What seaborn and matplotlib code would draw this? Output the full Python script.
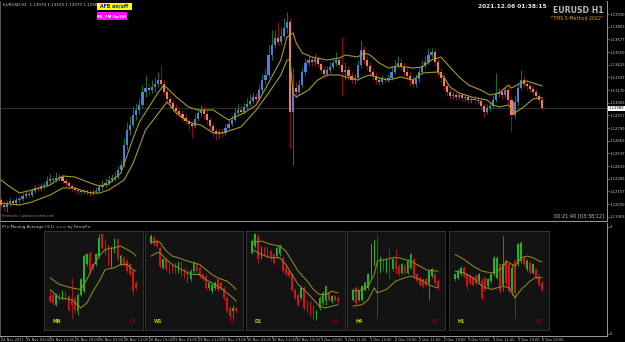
import numpy as np
import pandas as pd
import matplotlib
matplotlib.use("Agg")
import matplotlib.pyplot as plt
from matplotlib.patches import Rectangle
from matplotlib.transforms import blended_transform_factory
import seaborn as sns

W, H = 625, 342

# ---------------- main chart: EURUSD H1 ----------------
date_labels = ["24 Nov 2021", "25 Nov 03:00", "25 Nov 11:00", "25 Nov 19:00", "26 Nov 03:00",
               "26 Nov 11:00", "26 Nov 19:00", "29 Nov 03:00", "29 Nov 11:00", "29 Nov 19:00",
               "30 Nov 03:00", "30 Nov 11:00", "30 Nov 19:00", "1 Dec 03:00", "1 Dec 11:00",
               "1 Dec 19:00", "2 Dec 03:00", "2 Dec 11:00", "2 Dec 19:00", "3 Dec 03:00",
               "3 Dec 11:00", "3 Dec 19:00", "6 Dec 03:00"]
date_bars = [0, 8, 16, 24, 32, 40, 48, 56, 64, 72, 80, 88, 96, 104, 112, 120, 128, 136,
             144, 152, 160, 168, 176]

h1_open = [1.1207, 1.1202, 1.1200, 1.1204, 1.1206, 1.1204, 1.1207, 1.1208, 1.1211, 1.1213,
           1.1212, 1.1216, 1.1219, 1.1218, 1.1221, 1.1222, 1.1226, 1.1228, 1.1227, 1.1229,
           1.1230, 1.1226, 1.1224, 1.1221, 1.1219, 1.1217, 1.1216, 1.1215, 1.1216, 1.1215,
           1.1214, 1.1215, 1.1216, 1.1220, 1.1222, 1.1224, 1.1227, 1.1229, 1.1230, 1.1237,
           1.1242, 1.1262, 1.1277, 1.1282, 1.1292, 1.1297, 1.1302, 1.1315, 1.1319, 1.1317,
           1.1320, 1.1323, 1.1327, 1.1323, 1.1315, 1.1308, 1.1304, 1.1299, 1.1296, 1.1293,
           1.1289, 1.1286, 1.1283, 1.1281, 1.1288, 1.1294, 1.1297, 1.1293, 1.1287, 1.1281,
           1.1276, 1.1273, 1.1275, 1.1274, 1.1279, 1.1283, 1.1287, 1.1294, 1.1297, 1.1295,
           1.1300, 1.1303, 1.1306, 1.1310, 1.1308, 1.1317, 1.1327, 1.1332, 1.1352, 1.1362,
           1.1369, 1.1365, 1.1371, 1.1379, 1.1385, 1.1295, 1.1319, 1.1315, 1.1322, 1.1335,
           1.1344, 1.1347, 1.1345, 1.1348, 1.1343, 1.1337, 1.1333, 1.1337, 1.1340, 1.1344,
           1.1347, 1.1342, 1.1335, 1.1337, 1.1331, 1.1327, 1.1329, 1.1342, 1.1357, 1.1347,
           1.1341, 1.1335, 1.1331, 1.1327, 1.1325, 1.1328, 1.1327, 1.1329, 1.1335, 1.1341,
           1.1344, 1.1340, 1.1335, 1.1331, 1.1327, 1.1323, 1.1328, 1.1335, 1.1341, 1.1345,
           1.1352, 1.1355, 1.1345, 1.1335, 1.1329, 1.1321, 1.1315, 1.1311, 1.1312, 1.1310,
           1.1312, 1.1309, 1.1310, 1.1307, 1.1308, 1.1307, 1.1306, 1.1301, 1.1295, 1.1299,
           1.1301, 1.1307, 1.1313, 1.1315, 1.1312, 1.1317, 1.1307, 1.1292, 1.1305, 1.1319,
           1.1327, 1.1323, 1.1321, 1.1318, 1.1315, 1.1311, 1.1307]
h1_high = [1.1210, 1.1206, 1.1207, 1.1209, 1.1208, 1.1210, 1.1211, 1.1214, 1.1216, 1.1216,
           1.1219, 1.1222, 1.1223, 1.1224, 1.1225, 1.1231, 1.1233, 1.1231, 1.1235, 1.1233,
           1.1232, 1.1229, 1.1226, 1.1223, 1.1221, 1.1219, 1.1218, 1.1218, 1.1218, 1.1217,
           1.1218, 1.1220, 1.1223, 1.1227, 1.1229, 1.1232, 1.1233, 1.1236, 1.1241, 1.1247,
           1.1269, 1.1285, 1.1291, 1.1301, 1.1304, 1.1309, 1.1322, 1.1332, 1.1323, 1.1327,
           1.1330, 1.1335, 1.1342, 1.1327, 1.1318, 1.1311, 1.1307, 1.1303, 1.1299, 1.1297,
           1.1293, 1.1288, 1.1286, 1.1293, 1.1299, 1.1302, 1.1301, 1.1297, 1.1290, 1.1284,
           1.1279, 1.1278, 1.1279, 1.1283, 1.1288, 1.1292, 1.1299, 1.1303, 1.1302, 1.1304,
           1.1309, 1.1313, 1.1315, 1.1314, 1.1323, 1.1333, 1.1339, 1.1362, 1.1377, 1.1377,
           1.1385, 1.1379, 1.1389, 1.1395, 1.1389, 1.1339, 1.1325, 1.1327, 1.1339, 1.1349,
           1.1352, 1.1351, 1.1353, 1.1351, 1.1346, 1.1341, 1.1341, 1.1345, 1.1349, 1.1355,
           1.1350, 1.1370, 1.1345, 1.1341, 1.1335, 1.1333, 1.1347, 1.1367, 1.1361, 1.1351,
           1.1345, 1.1339, 1.1335, 1.1331, 1.1332, 1.1331, 1.1333, 1.1341, 1.1347, 1.1351,
           1.1349, 1.1344, 1.1339, 1.1335, 1.1331, 1.1333, 1.1339, 1.1347, 1.1351, 1.1359,
           1.1359, 1.1359, 1.1349, 1.1339, 1.1333, 1.1325, 1.1319, 1.1316, 1.1315, 1.1315,
           1.1314, 1.1313, 1.1313, 1.1311, 1.1311, 1.1310, 1.1309, 1.1304, 1.1303, 1.1305,
           1.1312, 1.1334, 1.1319, 1.1319, 1.1321, 1.1321, 1.1311, 1.1312, 1.1323, 1.1337,
           1.1331, 1.1326, 1.1324, 1.1321, 1.1318, 1.1314, 1.1310]
h1_low = [1.1199, 1.1196, 1.1195, 1.1201, 1.1202, 1.1202, 1.1204, 1.1206, 1.1209, 1.1209,
          1.1210, 1.1214, 1.1216, 1.1216, 1.1218, 1.1220, 1.1223, 1.1224, 1.1225, 1.1226,
          1.1224, 1.1221, 1.1218, 1.1216, 1.1214, 1.1213, 1.1212, 1.1213, 1.1212, 1.1211,
          1.1212, 1.1213, 1.1214, 1.1217, 1.1220, 1.1222, 1.1225, 1.1226, 1.1228, 1.1234,
          1.1240, 1.1257, 1.1272, 1.1280, 1.1287, 1.1293, 1.1299, 1.1310, 1.1312, 1.1314,
          1.1315, 1.1320, 1.1319, 1.1312, 1.1304, 1.1299, 1.1295, 1.1292, 1.1289, 1.1286,
          1.1283, 1.1277, 1.1269, 1.1279, 1.1286, 1.1291, 1.1288, 1.1283, 1.1277, 1.1270,
          1.1267, 1.1269, 1.1270, 1.1272, 1.1277, 1.1281, 1.1285, 1.1292, 1.1292, 1.1293,
          1.1297, 1.1301, 1.1304, 1.1305, 1.1306, 1.1314, 1.1323, 1.1329, 1.1347, 1.1359,
          1.1362, 1.1362, 1.1369, 1.1374, 1.1259, 1.1242, 1.1309, 1.1312, 1.1319, 1.1331,
          1.1341, 1.1341, 1.1342, 1.1340, 1.1334, 1.1330, 1.1331, 1.1334, 1.1338, 1.1341,
          1.1339, 1.1312, 1.1327, 1.1327, 1.1324, 1.1323, 1.1327, 1.1339, 1.1343, 1.1337,
          1.1331, 1.1327, 1.1323, 1.1321, 1.1323, 1.1324, 1.1325, 1.1327, 1.1333, 1.1339,
          1.1337, 1.1331, 1.1327, 1.1321, 1.1319, 1.1320, 1.1325, 1.1333, 1.1339, 1.1343,
          1.1349, 1.1341, 1.1331, 1.1325, 1.1317, 1.1311, 1.1308, 1.1308, 1.1307, 1.1308,
          1.1306, 1.1306, 1.1304, 1.1304, 1.1303, 1.1303, 1.1297, 1.1290, 1.1293, 1.1296,
          1.1299, 1.1305, 1.1310, 1.1308, 1.1309, 1.1303, 1.1275, 1.1289, 1.1301, 1.1317,
          1.1320, 1.1317, 1.1315, 1.1312, 1.1308, 1.1304, 1.1297]
h1_close = [1.1202, 1.1200, 1.1204, 1.1206, 1.1204, 1.1207, 1.1208, 1.1211, 1.1213, 1.1212,
            1.1216, 1.1219, 1.1218, 1.1221, 1.1222, 1.1226, 1.1228, 1.1227, 1.1229, 1.1230,
            1.1226, 1.1224, 1.1221, 1.1219, 1.1217, 1.1216, 1.1215, 1.1216, 1.1215, 1.1214,
            1.1215, 1.1216, 1.1220, 1.1222, 1.1224, 1.1227, 1.1229, 1.1230, 1.1237, 1.1242,
            1.1262, 1.1277, 1.1282, 1.1292, 1.1297, 1.1302, 1.1315, 1.1319, 1.1317, 1.1320,
            1.1323, 1.1327, 1.1323, 1.1315, 1.1308, 1.1304, 1.1299, 1.1296, 1.1293, 1.1289,
            1.1286, 1.1283, 1.1281, 1.1288, 1.1294, 1.1297, 1.1293, 1.1287, 1.1281, 1.1276,
            1.1273, 1.1275, 1.1274, 1.1279, 1.1283, 1.1287, 1.1294, 1.1297, 1.1295, 1.1300,
            1.1303, 1.1306, 1.1310, 1.1308, 1.1317, 1.1327, 1.1332, 1.1352, 1.1362, 1.1369,
            1.1365, 1.1371, 1.1379, 1.1385, 1.1295, 1.1319, 1.1315, 1.1322, 1.1335, 1.1344,
            1.1347, 1.1345, 1.1348, 1.1343, 1.1337, 1.1333, 1.1337, 1.1340, 1.1344, 1.1347,
            1.1342, 1.1335, 1.1337, 1.1331, 1.1327, 1.1329, 1.1342, 1.1357, 1.1347, 1.1341,
            1.1335, 1.1331, 1.1327, 1.1325, 1.1328, 1.1327, 1.1329, 1.1335, 1.1341, 1.1344,
            1.1340, 1.1335, 1.1331, 1.1327, 1.1323, 1.1328, 1.1335, 1.1341, 1.1345, 1.1352,
            1.1355, 1.1345, 1.1335, 1.1329, 1.1321, 1.1315, 1.1311, 1.1312, 1.1310, 1.1312,
            1.1309, 1.1310, 1.1307, 1.1308, 1.1307, 1.1306, 1.1301, 1.1295, 1.1299, 1.1301,
            1.1307, 1.1313, 1.1315, 1.1312, 1.1317, 1.1307, 1.1292, 1.1305, 1.1319, 1.1327,
            1.1323, 1.1321, 1.1318, 1.1315, 1.1311, 1.1307, 1.12989]

ma_upper_bar = [0, 3, 6, 10, 16, 20, 24, 29, 32, 35, 39, 43, 45, 51, 53, 57, 61, 64, 69, 74,
                79, 83, 87, 91, 93, 95, 96, 98, 101, 106, 110, 112, 116, 118, 120, 123, 126,
                129, 134, 137, 140, 143, 146, 149, 152, 156, 159, 162, 165, 166, 169, 171, 175, 176]
ma_upper = [1.1227, 1.1220, 1.1214, 1.1217, 1.1222, 1.1231, 1.1230, 1.1224, 1.1221, 1.1223,
            1.1234, 1.1269, 1.1285, 1.1314, 1.1322, 1.1310, 1.1300, 1.1297, 1.1297, 1.1287,
            1.1294, 1.1302, 1.1324, 1.1347, 1.1370, 1.1374, 1.1364, 1.1354, 1.1350, 1.1347,
            1.1349, 1.1352, 1.1350, 1.1354, 1.1352, 1.1344, 1.1339, 1.1341, 1.1339, 1.1340,
            1.1347, 1.1350, 1.1340, 1.1330, 1.1322, 1.1317, 1.1312, 1.1314, 1.1322, 1.1319,
            1.1324, 1.1326, 1.1322, 1.1321]
ma_lower_bar = [0, 6, 10, 16, 20, 24, 29, 32, 35, 40, 43, 47, 54, 57, 60, 62, 65, 69, 72, 78,
                83, 87, 91, 93, 94, 95, 96, 100, 103, 106, 110, 112, 116, 118, 120, 123, 126,
                130, 134, 137, 142, 144, 146, 149, 153, 158, 160, 162, 165, 167, 170, 173, 175, 176]
ma_lower = [1.1204, 1.1202, 1.1205, 1.1212, 1.1219, 1.1219, 1.1214, 1.1214, 1.1217, 1.1227,
            1.1244, 1.1277, 1.1305, 1.1294, 1.1287, 1.1284, 1.1282, 1.1274, 1.1274, 1.1280,
            1.1297, 1.1314, 1.1332, 1.1347, 1.1347, 1.1314, 1.1310, 1.1317, 1.1327, 1.1332,
            1.1332, 1.1330, 1.1327, 1.1330, 1.1332, 1.1329, 1.1327, 1.1330, 1.1327, 1.1334,
            1.1335, 1.1330, 1.1320, 1.1314, 1.1310, 1.1307, 1.1302, 1.1300, 1.1302, 1.1294,
            1.1300, 1.1308, 1.1309, 1.1309]

price_ticks = [1.11903, 1.12030, 1.12157, 1.12283, 1.12410, 1.12537, 1.12663, 1.12790,
               1.12917, 1.13043, 1.13170, 1.13297, 1.13423, 1.13550, 1.13677, 1.13803, 1.13930]

# ---------------- multi-timeframe boxes (O, H, L, C) ----------------
tf_names = ["MN", "W1", "D1", "H4", "H1"]
mn_ohlc = [(95,115,75,80),(100,105,70,75),(70,105,65,100),(100,105,80,85),(90,115,85,110),
           (105,110,85,90),(95,100,50,55),(85,150,30,70),(90,95,45,55),(50,105,40,100),
           (100,150,95,145),(110,220,105,215),(190,225,185,220),(225,230,160,170),(190,195,170,175),
           (190,225,185,220),(215,280,210,270),(280,285,235,240),(260,265,215,220),(245,250,185,190),
           (185,245,180,240),(230,270,225,265),(265,268,200,205),(190,220,185,215),(210,215,185,190),
           (200,205,165,170),(190,195,155,160),(170,175,100,110),(135,140,115,120)]
w1_ohlc = [(255,280,250,275),(270,275,245,250),(260,265,240,245),(240,245,180,185),(180,210,175,205),
           (205,210,170,175),(190,195,160,165),(185,190,165,170),(190,195,160,165),(170,200,165,195),
           (195,200,155,160),(175,180,150,155),(170,175,135,140),(145,175,140,170),(170,200,165,195),
           (190,195,165,170),(180,185,150,155),(160,165,140,145),(155,160,115,120),(120,140,115,135),
           (110,135,105,130),(120,140,115,135),(145,150,110,115),(135,140,115,120),(120,125,85,90),
           (90,95,45,50),(60,65,25,35),(50,70,30,60),(60,62,45,50)]
d1_ohlc = [(225,265,220,260),(245,285,240,280),(275,280,195,205),(210,245,205,240),(240,245,215,220),
           (240,245,210,215),(230,235,200,210),(220,225,190,195),(215,245,210,240),(220,250,215,245),
           (210,215,165,170),(180,185,155,160),(170,175,150,155),(160,165,110,115),(115,120,85,90),
           (100,105,65,70),(90,125,85,120),(120,125,55,60),(80,85,45,50),(75,80,35,40),
           (65,70,25,30),(30,55,25,50),(60,95,55,90),(75,110,70,105),(80,130,70,125),
           (105,110,80,85),(80,100,75,95),(95,100,80,85),(90,95,75,80)]
h4_ohlc = [(85,120,80,115),(120,125,70,75),(85,115,80,110),(85,130,80,125),(115,140,110,135),
           (120,165,115,160),(155,255,150,250),(190,265,185,260),(255,280,30,180),(170,215,165,210),
           (205,210,170,175),(170,210,165,205),(200,240,145,165),(175,210,170,205),(200,235,160,175),
           (185,190,155,160),(165,195,160,190),(185,190,160,165),(165,205,160,200),(180,225,175,220),
           (205,210,150,155),(160,165,135,140),(150,155,125,130),(145,150,120,125),(145,150,125,130),
           (135,175,85,170),(155,180,150,175),(160,165,130,135),(140,145,115,120)]
hr_ohlc = [(145,165,140,160),(150,175,145,170),(160,185,155,180),(180,185,150,155),(160,165,115,125),
           (155,160,130,135),(150,155,125,130),(155,160,130,135),(140,165,135,160),(140,150,85,90),
           (150,155,110,115),(125,150,120,145),(140,165,135,160),(160,215,155,210),(150,215,145,210),
           (190,195,105,110),(130,275,110,190),(200,205,130,135),(190,195,105,110),(115,190,100,180),
           (200,205,30,105),(190,255,185,250),(200,260,195,255),(210,215,185,190),(175,205,170,200),
           (195,200,160,165),(165,195,160,190),(175,180,145,150),(155,160,125,130),(135,140,110,115)]

mn_ma1_idx = [0, 3, 7, 10, 12, 14, 16, 18, 21, 23, 25, 27, 28]
mn_ma1 = [150, 130, 120, 115, 145, 185, 215, 235, 240, 245, 235, 225, 215]
mn_ma2 = [115, 90, 85, 60, 75, 110, 140, 175, 180, 190, 190, 175, 170]
w1_ma_idx = [0, 2, 3, 5, 7, 9, 12, 14, 16, 18, 20, 22, 25, 27, 28]
w1_ma1 = [255, 260, 255, 230, 215, 210, 200, 195, 190, 175, 160, 150, 140, 125, 115]
w1_ma2 = [215, 225, 225, 205, 190, 180, 165, 160, 160, 145, 135, 125, 105, 90, 80]
d1_ma_idx = [0, 3, 6, 9, 11, 13, 15, 18, 20, 22, 24, 26, 28]
d1_ma1 = [255, 260, 250, 245, 230, 200, 170, 140, 115, 100, 100, 110, 105]
d1_ma2 = [235, 220, 210, 210, 190, 160, 130, 105, 85, 65, 60, 65, 70]
h4_ma1_idx = [0, 3, 5, 7, 8, 11, 13, 15, 17, 19, 22, 24, 25, 28]
h4_ma1 = [110, 115, 125, 160, 200, 205, 210, 210, 205, 200, 185, 175, 172, 170]
h4_ma2_idx = [0, 3, 5, 7, 8, 11, 14, 17, 19, 22, 24, 26, 28]
h4_ma2 = [65, 70, 85, 120, 105, 115, 140, 150, 155, 145, 135, 125, 120]
hr_ma1_idx = [0, 3, 6, 9, 12, 13, 16, 17, 18, 20, 22, 24, 26, 28, 29]
hr_ma1 = [220, 205, 185, 170, 165, 165, 180, 200, 195, 185, 210, 215, 210, 200, 198]
hr_ma2_idx = [0, 3, 6, 9, 12, 14, 16, 18, 19, 20, 22, 25, 27, 28, 29]
hr_ma2 = [170, 165, 150, 125, 115, 120, 125, 120, 105, 90, 115, 140, 152, 150, 150]

# ---------------- drawing ----------------
sns.set_theme(style="dark")
plt.rcParams["font.family"] = ["DejaVu Sans"]
plt.rcParams["axes.facecolor"] = "black"

fig = plt.figure(figsize=(W / 100, H / 100), dpi=100, facecolor="black")


def px_axes(x0, y0, x1, y1):
    return fig.add_axes([x0 / W, 1 - y1 / H, (x1 - x0) / W, (y1 - y0) / H])


def ftext(x, y, s, **kw):
    fig.text(x / W, 1 - y / H, s, **kw)


def draw_candles(ax, o, h, l, c, bw, up_body, dn_body, up_wick, dn_wick, lw, min_h):
    o, h, l, c = (np.asarray(v, dtype=float) for v in (o, h, l, c))
    x = np.arange(len(o))
    up = c >= o
    ax.vlines(x[up], l[up], h[up], color=up_wick, lw=lw, zorder=2)
    ax.vlines(x[~up], l[~up], h[~up], color=dn_wick, lw=lw, zorder=2)
    bottom = np.minimum(o, c)
    height = np.maximum(np.abs(c - o), min_h)
    ax.bar(x[up], height[up], bw, bottom[up], color=up_body, linewidth=0, zorder=3)
    ax.bar(x[~up], height[~up], bw, bottom[~up], color=dn_body, linewidth=0, zorder=3)


GRAY = "#c8c8c8"
AXIS = "#9a9a9a"
MA_COL = "#a39a22"

# main price panel
ax = px_axes(0, 1, 607, 221)
ax.set_facecolor("black")
ax.grid(False)
ax.axhline(h1_close[-1], color="#3a3a3a", lw=0.6, zorder=1)
draw_candles(ax, h1_open, h1_high, h1_low, h1_close, 0.7,
             "#4a7fdc", "#f47a58", "#1f8a1f", "#a81010", 0.6, 0.00004)
sns.lineplot(x=ma_upper_bar, y=ma_upper, ax=ax, color=MA_COL, lw=0.8,
             estimator=None, sort=False, zorder=4)
sns.lineplot(x=ma_lower_bar, y=ma_lower, ax=ax, color=MA_COL, lw=0.8,
             estimator=None, sort=False, zorder=4)
ax.set_xlim(-0.325, 197.07)
ax.set_ylim(1.1186, 1.1406)
ax.set_xlabel("")
ax.set_ylabel("")
ax.set_xticks([])
ax.yaxis.tick_right()
ax.set_yticks(price_ticks)
ax.set_yticklabels([f"{p:.5f}" for p in price_ticks])
ax.tick_params(axis="y", colors=AXIS, labelcolor=GRAY, labelsize=2.7, length=1.2,
               width=0.5, pad=0.8, right=True, left=False)
ax.spines["top"].set_visible(False)
for side in ["right", "bottom", "left"]:
    ax.spines[side].set_color(AXIS if side != "left" else "#555555")
    ax.spines[side].set_linewidth(0.7)

tr = blended_transform_factory(ax.transAxes, ax.transData)
ax.text(1.003, h1_close[-1], f"{h1_close[-1]:.5f}", transform=tr, ha="left", va="center",
        fontsize=2.7, color="black",
        bbox=dict(boxstyle="square,pad=0.15", fc="white", ec="none"))

# header / info texts
ftext(3, 5, f"EURUSD,H1  {h1_open[-1]:.5f} {h1_high[-1]:.5f} {h1_low[-1]:.5f} {h1_close[-1]:.5f}",
      fontsize=3.0, color=GRAY, va="center", ha="left")
fig.patches.append(Rectangle((97 / W, 1 - 10 / H), 35 / W, 7.5 / H, transform=fig.transFigure,
                             facecolor="#ffff00", edgecolor="none", zorder=5))
ftext(114.5, 6.3, "AFB on/off", fontsize=3.4, color="#1a1aa0", fontweight="bold",
      ha="center", va="center", zorder=6)
fig.patches.append(Rectangle((97 / W, 1 - 19.5 / H), 30 / W, 7 / H, transform=fig.transFigure,
                             facecolor="#ff00ff", edgecolor="none", zorder=5))
ftext(112, 16, "ML_FM On/Off", fontsize=2.7, color="white", fontweight="bold",
      ha="center", va="center", zorder=6)
ftext(512, 6, "2021.12.06 01:38:15", fontsize=4.2, color="#e8e8e8", fontweight="bold",
      ha="center", va="center")
ftext(604, 10.5, "EURUSD H1", fontsize=5.6, color="#b8b8b8", fontweight="bold",
      ha="right", va="center")
ftext(603, 18.5, "\"TMS 5-Method 2022\"", fontsize=3.4, color="#d4a017",
      ha="right", va="center")
ftext(2, 216, "Fernufx / www.ervent.net", fontsize=3.0, color="#8a8a8a",
      ha="left", va="center")
ftext(604, 216, "00:21:40 [03:38:12]", fontsize=3.6, color=GRAY, ha="right", va="center")

# indicator panel
ind = px_axes(0, 223, 607, 336)
ind.set_facecolor("black")
ind.grid(False)
ind.set_xlim(-0.325, 197.07)
ind.set_ylim(-0.04, 2.07)
ind.yaxis.tick_right()
ind.set_yticks([0, 2])
ind.set_yticklabels(["0", "2"])
ind.tick_params(axis="y", colors=AXIS, labelcolor=GRAY, labelsize=2.7, length=1.2,
                width=0.5, pad=0.8, right=True, left=False)
ind.set_xticks(date_bars)
ind.set_xticklabels(date_labels, ha="left")
ind.tick_params(axis="x", colors=AXIS, labelcolor=GRAY, labelsize=2.5, length=1.4,
                width=0.5, pad=0.3, bottom=True)
ind.spines["top"].set_visible(False)
for side in ["right", "bottom", "left"]:
    ind.spines[side].set_color(AXIS if side != "left" else "#555555")
    ind.spines[side].set_linewidth(0.7)
ind.text(0.004, 0.965, "FFx Moving Average (3,1) ==> by FernuFx", transform=ind.transAxes,
         fontsize=3.0, color=GRAY, ha="left", va="center")

# multi-timeframe boxes
boxes = [(44, 143), (145, 243), (246, 345), (347, 445), (449, 549)]
box_data = [mn_ohlc, w1_ohlc, d1_ohlc, h4_ohlc, hr_ohlc]
box_ma = [((mn_ma1_idx, mn_ma1), (mn_ma1_idx, mn_ma2)),
          ((w1_ma_idx, w1_ma1), (w1_ma_idx, w1_ma2)),
          ((d1_ma_idx, d1_ma1), (d1_ma_idx, d1_ma2)),
          ((h4_ma1_idx, h4_ma1), (h4_ma2_idx, h4_ma2)),
          ((hr_ma1_idx, hr_ma1), (hr_ma2_idx, hr_ma2))]

for (x0, x1), name, rows, mas in zip(boxes, tf_names, box_data, box_ma):
    mx = px_axes(x0, 231, x1, 330)
    mx.set_facecolor("#131313")
    mx.grid(False)
    df = pd.DataFrame(rows, columns=["o", "h", "l", "c"])
    draw_candles(mx, df.o, df.h, df.l, df.c, 0.5,
                 "#22b422", "#d81212", "#22b422", "#d81212", 0.55, 1.5)
    for idx, vals in mas:
        sns.lineplot(x=idx, y=vals, ax=mx, color="#8e8a1c", lw=0.75,
                     estimator=None, sort=False, zorder=4)
    n = len(rows)
    mx.set_xlim(-2, n + 1.3)
    mx.set_ylim(-6, 290)
    mx.set_xticks([])
    mx.set_yticks([])
    mx.set_xlabel("")
    mx.set_ylabel("")
    for s in mx.spines.values():
        s.set_color("#3a3a3a")
        s.set_linewidth(0.6)
        s.set_visible(True)
    mx.text(0.09, 0.09, name, transform=mx.transAxes, fontsize=3.4, color="#c8c800",
            fontweight="bold", ha="left", va="center")
    mx.text(0.86, 0.09, "D3", transform=mx.transAxes, fontsize=3.4, color="#b00000",
            ha="left", va="center")

fig.savefig("out.png", dpi=100, facecolor="black")
